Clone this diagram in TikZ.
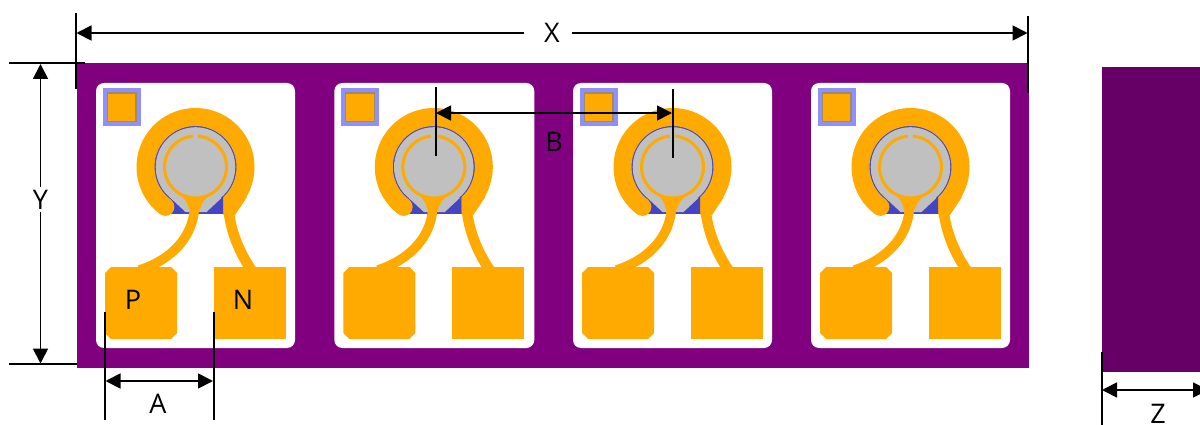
\documentclass[tikz,border=0pt]{standalone}
\usepackage{fontspec}
\setmainfont{Open Sans}
\usetikzlibrary{arrows.meta}
\definecolor{stripcol}{HTML}{800080}
\definecolor{blockcol}{HTML}{660066}
\definecolor{padcol}{HTML}{FFAA00}
\definecolor{greycol}{HTML}{C0C0C0}
\definecolor{bluecol}{HTML}{4444C4}
\definecolor{markcol}{HTML}{8F8FFF}
\definecolor{markedge}{HTML}{A08C60}
\tikzset{
  dimline/.style={line width=2pt,black},
  dimarrow/.style={line width=1.8pt,black,{Triangle[length=15pt,width=15pt]}-{Triangle[length=15pt,width=15pt]}},
  lbl/.style={font=\fontsize{27}{27}\selectfont,text=black,inner sep=0pt},
  gaplbl/.style={lbl,fill=white,inner xsep=2pt,inner ysep=3pt},
  trace/.style={draw=padcol,line cap=butt},
}
\begin{document}
\begin{tikzpicture}[x=1pt,y=1pt]
\useasboundingbox (0,0) rectangle (1200,-425);
\clip (0,0) rectangle (1200,-425);
\fill[white] (0,0) rectangle (1200,-425);
% strip and block
\fill[stripcol] (77,-63) rectangle (1029,-368);
\fill[blockcol] (1102,-67) rectangle (1210,-372);
% cells
\foreach \dx/\cw in {0/199,238.3/200,477/199,715/199}{
\begin{scope}[xshift=\dx pt]
  \fill[white,rounded corners=8pt] (96,-83) rectangle ++(\cw,-265);
  % corner mark
  \fill[markcol] (103,-88) rectangle (141,-126);
  \filldraw[fill=padcol,draw=markedge,line width=1.2pt] (107.5,-93) rectangle (136,-121.5);
  % sensor, origin at the ring centre
  \begin{scope}[shift={(195.5,-167)}]
    \fill[bluecol] (0,0) circle[radius=41.5pt];
    \fill[bluecol] (-28.5,-47.3) -- (28.5,-47.3) -- (28.5,-28) -- (-28.5,-28) -- cycle;
    \fill[greycol] (0,0) circle[radius=39.8pt];
    \fill[greycol] (-25,-31) -- (-10,-45) -- (11,-45) -- (26,-31) -- cycle;
    % wide ring
    \draw[padcol,line width=18pt,line cap=butt] (233:50pt) arc[start angle=233,end angle=-47,radius=50pt];
    \fill[padcol] (233:50pt) circle[radius=9pt];
    \fill[padcol] (27.8,-31) -- (51.5,-30) -- (39.5,-48) -- (27.8,-48) -- cycle;
    % thin ring
    \draw[padcol,line width=3pt] (86:31pt) arc[start angle=86,end angle=-265,radius=31pt];
    % funnel
    \fill[padcol] (-15,-27) .. controls (-11,-32) and (-8,-35) .. (-6.5,-42)
       -- (4.5,-42) .. controls (6,-35) and (10,-32) .. (15,-27)
       .. controls (5,-32) and (-5,-32) .. (-15,-27) -- cycle;
    % traces
    \draw[trace,line width=9.5pt] (-1,-40) .. controls (-2,-68) and (-22,-92) .. (-56,-103);
    \draw[trace,line width=10.5pt] (33,-31) -- (33,-42) .. controls (35,-65) and (45,-88) .. (58,-106);
  \end{scope}
  % pads
  \fill[padcol] (111,-267) -- (171,-267) -- (177,-273) -- (177,-333) -- (171,-339)
     -- (111,-339) -- (105,-333) -- (105,-273) -- cycle;
  \fill[padcol] (214,-267) rectangle (286,-339);
\end{scope}
}
\node[lbl] (P) at (133,-300) {P};
\node[lbl] (N) at (243,-300) {N};
% named ends of the dimension lines
\coordinate (xa) at (75.5,-13); \coordinate (xb) at (75.5,-89);
\coordinate (xc) at (1028,-16); \coordinate (xd) at (1028,-93);
\coordinate (x1) at (76.5,-33); \coordinate (x2) at (1027.5,-33);
\coordinate (xg1) at (524,-33); \coordinate (xg2) at (572,-33);
\coordinate (ya) at (9,-63);    \coordinate (yb) at (85,-63);
\coordinate (yc) at (9,-364);   \coordinate (yd) at (77,-364);
\coordinate (y1) at (40.5,-64); \coordinate (y2) at (40.5,-363.5);
\coordinate (aa) at (105,-312); \coordinate (ab) at (105,-420);
\coordinate (ac) at (213.5,-312); \coordinate (ad) at (213.5,-420);
\coordinate (a1) at (105.5,-381); \coordinate (a2) at (213,-381);
\coordinate (ba) at (435.5,-87); \coordinate (bb) at (435.5,-156);
\coordinate (bc) at (672.5,-89); \coordinate (bd) at (672.5,-158);
\coordinate (b1) at (436,-113); \coordinate (b2) at (672,-113);
\coordinate (za) at (1101.5,-352); \coordinate (zb) at (1101.5,-425);
\coordinate (z1) at (1102,-390); \coordinate (z2) at (1208,-390);
% extension lines
\foreach \p/\q in {xa/xb,xc/xd,ya/yb,yc/yd,aa/ab,ac/ad,ba/bb,bc/bd,za/zb}
  \draw[dimline] (\p) -- (\q);
% dimension arrows
\draw[dimarrow] (x1) -- (x2);
\draw[white,line width=4pt] (xg1) -- (xg2);
\node[lbl] (X) at (552,-33) {X};
\draw[dimarrow] (y1) -- node[gaplbl,pos=0.453] (Y) {Y} (y2);
\draw[dimarrow] (a1) -- (a2);
\draw[dimarrow] (b1) -- (b2);
\draw[dimarrow] (z1) -- (z2);
\node[lbl] (A) at (158,-404) {A};
\node[lbl] (B) at (554,-142) {B};
\node[lbl] (Z) at (1158,-413.5) {Z};
\end{tikzpicture}
\end{document}
